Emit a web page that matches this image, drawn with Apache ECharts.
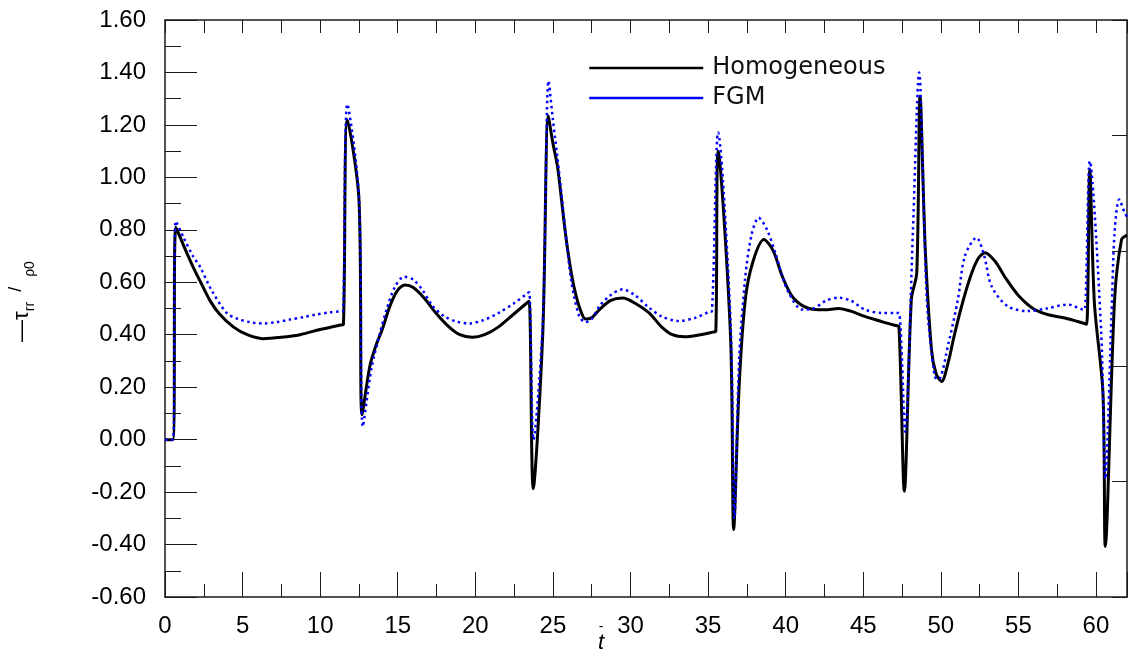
<!DOCTYPE html>
<html>
<head>
<meta charset="utf-8">
<script src="https://cdn.jsdelivr.net/npm/echarts@6/dist/echarts.min.js"></script>
<style>
html,body{margin:0;padding:0;background:#fff;}
#chart{width:1128px;height:652px;}
</style>
</head>
<body>
<div id="chart"></div>
<script>
// ---- data ----
const seriesNames = ['Homogeneous', 'FGM'];

const tHom = [0,0.5,0.7,1.2,1.8,2.3,2.9,3.5,4.4,5.3,6.3,7.5,8.7,10,11.3,11.5,11.75,12.5,12.7,13.2,13.6,14.0,14.5,15.0,15.5,16.0,16.7,17.5,18.3,19.0,19.8,20.6,21.5,22.5,23.3,23.47,23.73,24.35,24.7,25.0,25.3,25.8,26.2,26.5,26.8,27.1,27.5,28.0,28.7,29.5,30.3,31.2,32.0,32.7,33.5,34.5,35.3,35.5,35.65,36.45,36.65,37.0,37.4,37.9,38.6,39.2,39.8,40.5,41.5,42.5,43.4,44.2,45.1,46.2,47.1,47.3,47.65,48.1,48.45,48.66,49.0,49.4,49.7,50.05,50.5,50.8,51.3,51.9,52.4,52.85,53.5,54.1,55.0,56.05,57.0,58.0,59.2,59.4,59.6,59.9,60.45,60.6,61.2,61.65,62.0];
const vHom = [0,0,0.81,0.74,0.66,0.6,0.53,0.48,0.43,0.40,0.385,0.39,0.40,0.42,0.437,0.44,1.22,0.915,0.095,0.28,0.36,0.42,0.51,0.57,0.59,0.58,0.54,0.48,0.43,0.40,0.39,0.40,0.43,0.48,0.52,0.528,-0.187,0.41,1.234,1.13,1.04,0.79,0.63,0.547,0.49,0.46,0.465,0.496,0.53,0.54,0.52,0.483,0.43,0.40,0.392,0.40,0.41,0.413,1.10,0.39,-0.343,0.2,0.534,0.68,0.763,0.72,0.62,0.54,0.50,0.495,0.50,0.49,0.47,0.45,0.435,0.432,-0.197,0.534,0.636,1.31,0.725,0.343,0.25,0.222,0.30,0.38,0.50,0.62,0.69,0.713,0.68,0.623,0.55,0.496,0.475,0.464,0.444,0.44,1.03,0.52,0.178,-0.407,0.534,0.763,0.78];

const tFgm = [0,0.5,0.7,1.2,1.8,2.25,3.0,3.97,4.7,5.47,6.3,7.2,8.04,9.0,9.75,10.6,11.3,11.47,11.75,12.5,12.75,13.3,13.8,14.3,14.8,15.4,16.0,16.6,17.25,18.0,18.8,19.6,20.5,21.5,22.5,23.3,23.47,23.75,24.35,24.72,25.0,25.4,25.8,26.2,26.7,27.1,27.5,28.0,28.7,29.5,30.3,31.2,32.0,33.1,34.2,35.05,35.25,35.65,36.45,36.7,37.0,37.4,37.8,38.26,38.8,39.33,39.8,40.2,41.05,41.8,42.6,43.4,44.2,45.1,46.2,47.1,47.3,47.7,48.2,48.6,49.1,49.6,49.85,50.5,51.1,51.55,52.3,52.8,53.27,54.3,55.6,56.8,58.2,59.1,59.27,59.6,60.34,60.6,61.0,61.2,61.5,61.85,62.0];
const vFgm = [0,0,0.833,0.77,0.70,0.66,0.57,0.483,0.46,0.448,0.443,0.448,0.458,0.468,0.477,0.485,0.489,0.49,1.279,0.93,0.05,0.27,0.394,0.50,0.58,0.621,0.61,0.57,0.509,0.47,0.45,0.443,0.455,0.483,0.52,0.555,0.562,0.0,0.45,1.368,1.22,1.02,0.80,0.60,0.47,0.448,0.46,0.509,0.55,0.573,0.55,0.503,0.47,0.452,0.465,0.487,0.49,1.171,0.45,-0.30,0.30,0.62,0.78,0.846,0.80,0.713,0.62,0.56,0.496,0.50,0.53,0.541,0.53,0.496,0.483,0.483,0.483,0.03,0.79,1.40,0.534,0.242,0.229,0.369,0.534,0.70,0.77,0.70,0.585,0.509,0.49,0.50,0.515,0.497,0.496,1.062,0.407,-0.15,0.47,0.79,0.916,0.865,0.85];

const xTickLabels = [0,5,10,15,20,25,30,35,40,45,50,55,60];
const yTickLabels = ['-0.60','-0.40','-0.20','0.00','0.20','0.40','0.60','0.80','1.00','1.20','1.40','1.60'];

const zip = (a, b) => a.map((t, i) => [t, b[i]]);

const chart = echarts.init(document.getElementById('chart'), null, {renderer: 'canvas'});
const axisColor = '#1a1a1a';
const gridRect = {left: 165, top: 20, width: 962, height: 577, containLabel: false, outerBoundsMode: 'none'};

chart.setOption({
  backgroundColor: '#ffffff',
  animation: false,
  grid: [
    Object.assign({}, gridRect),
    Object.assign({}, gridRect)
  ],
  legend: {
    orient: 'vertical',
    left: 583,
    top: 51,
    itemWidth: 114,
    itemHeight: 14,
    itemGap: 6,
    data: [
      {name: seriesNames[0], itemStyle: {opacity: 0}, lineStyle: {width: 2.5, type: 'solid', color: '#000'}},
      {name: seriesNames[1], itemStyle: {opacity: 0}, lineStyle: {width: 2.5, type: 'solid', color: '#0000ff'}}
    ],
    textStyle: {fontFamily: 'DejaVu Sans', fontSize: 24, color: '#111', lineHeight: 24, padding: [0, 0, 0, 4]}
  },
  xAxis: [
    {
      gridIndex: 0, type: 'value', position: 'bottom', min: 0, max: 62, interval: 5,
      axisLine: {show: true, onZero: false, lineStyle: {color: axisColor, width: 1.5}},
      axisTick: {show: true, inside: true, length: 25, lineStyle: {color: axisColor, width: 1}},
      axisLabel: {
        margin: 17, fontFamily: 'Liberation Sans', fontSize: 24, color: '#000',
        formatter: v => (xTickLabels.indexOf(Math.round(v)) >= 0 && Math.abs(v - Math.round(v)) < 1e-6) ? String(Math.round(v)) : ''
      },
      splitLine: {show: false},
      name: '{bar|-}\n{t|t}',
      nameLocation: 'middle',
      nameGap: 24,
      nameMoveOverlap: false,
      nameTextStyle: {
        padding: [0, 90, 0, 0],
        rich: {
          bar: {fontFamily: 'Liberation Sans', fontSize: 14, lineHeight: 12, color: '#000', align: 'center'},
          t: {fontFamily: 'Liberation Sans', fontStyle: 'italic', fontSize: 22, lineHeight: 20, color: '#000', align: 'center'}
        }
      }
    },
    {
      gridIndex: 0, type: 'value', position: 'top', min: 0, max: 62, interval: 2.5,
      axisLine: {show: true, onZero: false, lineStyle: {color: axisColor, width: 1.5}},
      axisTick: {show: true, inside: true, length: 13, lineStyle: {color: axisColor, width: 1}},
      axisLabel: {show: false},
      splitLine: {show: false}
    },
    {
      gridIndex: 1, type: 'value', position: 'bottom', min: 0, max: 62, interval: 2.5,
      axisLine: {show: false, onZero: false},
      axisTick: {show: true, inside: true, length: 13, lineStyle: {color: axisColor, width: 1}},
      axisLabel: {show: false},
      splitLine: {show: false}
    }
  ],
  yAxis: [
    {
      gridIndex: 0, type: 'value', position: 'left', min: -0.6, max: 1.6, interval: 0.2,
      axisLine: {show: true, onZero: false, lineStyle: {color: axisColor, width: 1.5}},
      axisTick: {show: true, inside: true, length: 32, lineStyle: {color: axisColor, width: 1}},
      minorTick: {show: true, splitNumber: 2, length: 16, lineStyle: {color: axisColor, width: 1}},
      axisLabel: {
        margin: 19, fontFamily: 'Liberation Sans', fontSize: 24, color: '#000',
        formatter: v => {
          const s = v.toFixed(2);
          return yTickLabels.indexOf(s) >= 0 ? s : (s === '-0.00' ? '0.00' : s);
        }
      },
      splitLine: {show: false},
      name: '{n|—τ}{s|rr}   {m|/}   {s|ρ}{s|0}',
      nameLocation: 'middle',
      nameRotate: 90,
      nameGap: 128,
      nameMoveOverlap: false,
      nameTextStyle: {
        padding: [0, 0, 0, 14],
        rich: {
          n: {fontFamily: 'Liberation Sans', fontSize: 22, lineHeight: 30, color: '#000', verticalAlign: 'middle'},
          m: {fontFamily: 'Liberation Sans', fontSize: 18, lineHeight: 30, color: '#000', verticalAlign: 'top'},
          s: {fontFamily: 'Liberation Sans', fontSize: 14, lineHeight: 30, color: '#000', verticalAlign: 'bottom'}
        }
      }
    },
    {
      gridIndex: 0, type: 'value', position: 'right', min: 0, max: 5, interval: 1,
      axisLine: {show: true, onZero: false, lineStyle: {color: axisColor, width: 1.5}},
      axisTick: {show: true, inside: true, length: 15, lineStyle: {color: axisColor, width: 1}},
      axisLabel: {show: false},
      splitLine: {show: false}
    },
    {
      gridIndex: 1, type: 'value', show: false, min: -0.6, max: 1.6
    }
  ],
  series: [
    {
      name: seriesNames[0], type: 'line', xAxisIndex: 0, yAxisIndex: 0,
      data: zip(tHom, vHom), symbol: 'none', smooth: 0.3,
      lineStyle: {color: '#000000', width: 3, join: 'round'},
      itemStyle: {color: '#000000'},
      z: 2
    },
    {
      name: seriesNames[1], type: 'line', xAxisIndex: 0, yAxisIndex: 0,
      data: zip(tFgm, vFgm), symbol: 'none', smooth: 0.3,
      lineStyle: {color: '#0000ff', width: 2.5, type: [2.5, 3.5], cap: 'butt', join: 'round'},
      itemStyle: {color: '#0000ff'},
      z: 3
    }
  ]
});
</script>
</body>
</html>
